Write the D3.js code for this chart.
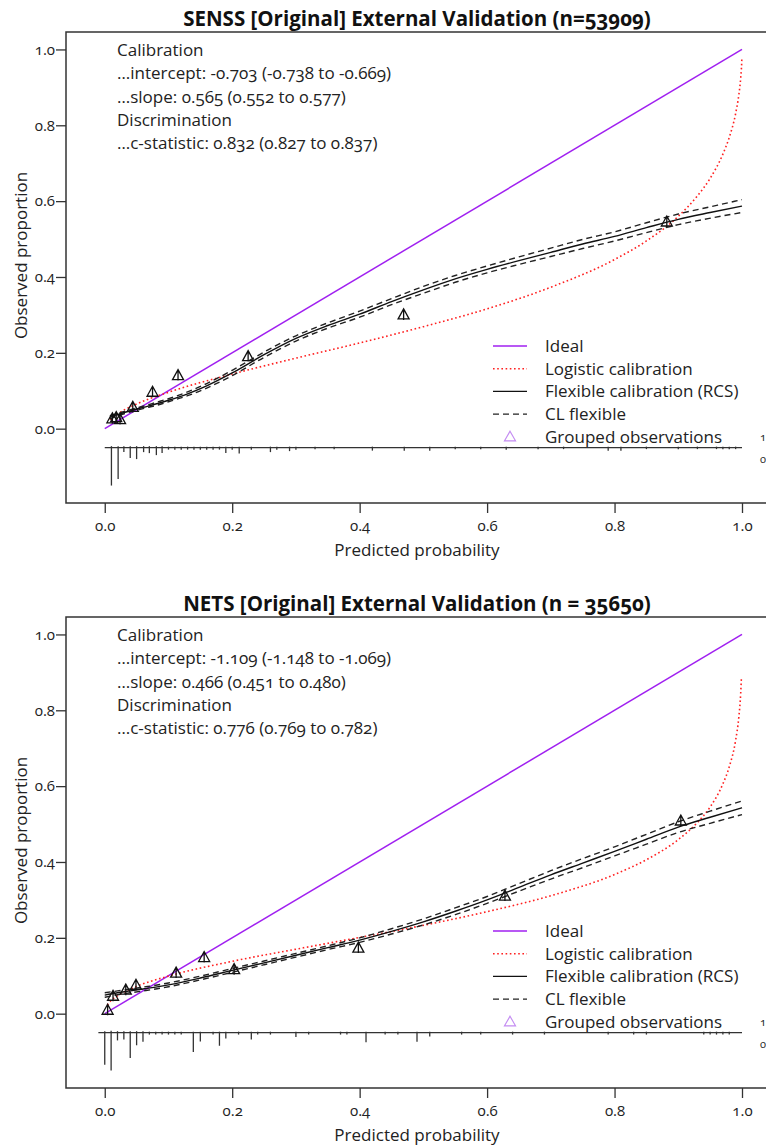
<!DOCTYPE html>
<html>
<head>
<meta charset="utf-8">
<script src="https://cdn.jsdelivr.net/npm/d3@7"></script>
<style>
  body { margin: 0; background: #fff; }
  svg { display: block; font-family: "Open Sans", Lato, sans-serif; font-variant-numeric: oldstyle-nums; font-feature-settings: "onum" 1; }
</style>
</head>
<body>
<div id="chart"></div>
<script>
// ---- SENSS panel data ----
var senssTitle = "SENSS [Original] External Validation (n=53909)";
var senssStats = ["Calibration", "\u2026intercept: -0.703 (-0.738 to -0.669)", "\u2026slope: 0.565 (0.552 to 0.577)",
  "Discrimination", "\u2026c-statistic: 0.832 (0.827 to 0.837)"];

var senssLogisticP = [0.008, 0.02, 0.05, 0.1, 0.2, 0.3, 0.4, 0.5, 0.6, 0.7, 0.8, 0.85, 0.9, 0.93, 0.95, 0.97, 0.98, 0.99, 0.995, 0.998, 0.999, 0.9995, 0.9998];
var senssLogisticObs = [0.024, 0.039, 0.065, 0.096, 0.144, 0.186, 0.226, 0.269, 0.316, 0.373, 0.446, 0.495, 0.560, 0.614, 0.660, 0.724, 0.768, 0.831, 0.880, 0.925, 0.948, 0.964, 0.980];

var senssRcsP = [0.008, 0.02, 0.04, 0.06, 0.08, 0.10, 0.13, 0.16, 0.20, 0.25, 0.30, 0.35, 0.40, 0.45, 0.50, 0.55, 0.60, 0.65, 0.70, 0.75, 0.80, 0.85, 0.90, 0.95, 1.0];
var senssRcsObs = [0.030, 0.037, 0.047, 0.056, 0.065, 0.075, 0.092, 0.113, 0.147, 0.195, 0.238, 0.272, 0.302, 0.335, 0.366, 0.395, 0.420, 0.443, 0.465, 0.487, 0.507, 0.530, 0.552, 0.570, 0.587];
var senssRcsLo = [0.026, 0.034, 0.044, 0.053, 0.061, 0.071, 0.087, 0.107, 0.140, 0.188, 0.231, 0.265, 0.294, 0.327, 0.357, 0.386, 0.411, 0.433, 0.454, 0.475, 0.495, 0.517, 0.538, 0.555, 0.570];
var senssRcsHi = [0.034, 0.040, 0.050, 0.059, 0.069, 0.079, 0.097, 0.119, 0.154, 0.202, 0.245, 0.279, 0.310, 0.343, 0.375, 0.404, 0.429, 0.453, 0.476, 0.499, 0.519, 0.543, 0.566, 0.585, 0.604];

var senssGroupP = [0.012, 0.018, 0.024, 0.044, 0.075, 0.115, 0.225, 0.469, 0.882];
var senssGroupObs = [0.026, 0.029, 0.024, 0.056, 0.096, 0.140, 0.190, 0.300, 0.545];

var senssSpikeP = [0.0105, 0.021, 0.03, 0.04, 0.05, 0.061, 0.07, 0.081, 0.09, 0.10, 0.11, 0.12, 0.13, 0.14, 0.15, 0.16, 0.17, 0.18, 0.19, 0.20, 0.211, 0.23, 0.26, 0.27, 0.29, 0.30, 0.33, 0.36, 0.42, 0.47, 0.51, 0.55, 0.59, 0.63, 0.68, 0.72, 0.79, 0.81, 0.85, 0.90, 0.93, 0.96, 0.97, 0.98, 0.99];
var senssSpike0 = [38, 31.5, 4.5, 10.5, 11.5, 4.5, 5.5, 7.5, 5.5, 2, 2, 2, 2, 2, 2, 2, 2, 2, 5.5, 2, 6, 2, 4.5, 2, 3.5, 2, 1.5, 1.5, 3, 3, 3, 1.5, 1.5, 2, 1.5, 1.5, 3, 3, 1.5, 1.5, 1.5, 1.5, 1.5, 1.5, 1.5];
var senssSpike1 = [1.5, 1.5, 1.5, 1.5, 1.5, 1.5, 1.5, 1.5, 1.5, 1, 1, 1, 1, 1, 1, 1, 1, 1, 1, 1, 1, 1, 1, 1, 1, 1, 1, 1, 1, 1, 1, 1, 1, 1, 1, 1, 1, 1, 1, 1, 1, 1, 1, 1, 1];

// ---- NETS panel data ----
var netsTitle = "NETS [Original] External Validation (n = 35650)";
var netsStats = ["Calibration", "\u2026intercept: -1.109 (-1.148 to -1.069)", "\u2026slope: 0.466 (0.451 to 0.480)",
  "Discrimination", "\u2026c-statistic: 0.776 (0.769 to 0.782)"];

var netsLogisticP = [0.004, 0.01, 0.02, 0.05, 0.1, 0.2, 0.3, 0.4, 0.5, 0.6, 0.7, 0.8, 0.85, 0.9, 0.93, 0.95, 0.97, 0.98, 0.99, 0.995, 0.998, 0.999];
var netsLogisticObs = [0.023, 0.035, 0.047, 0.072, 0.099, 0.138, 0.170, 0.201, 0.233, 0.269, 0.311, 0.367, 0.406, 0.459, 0.504, 0.545, 0.606, 0.651, 0.721, 0.782, 0.846, 0.884];

var netsRcsP = [0.0, 0.02, 0.04, 0.06, 0.08, 0.10, 0.15, 0.20, 0.25, 0.30, 0.35, 0.40, 0.45, 0.50, 0.55, 0.60, 0.65, 0.70, 0.75, 0.80, 0.85, 0.90, 0.95, 1.0];
var netsRcsObs = [0.049, 0.055, 0.060, 0.065, 0.070, 0.076, 0.094, 0.114, 0.134, 0.154, 0.174, 0.194, 0.217, 0.242, 0.270, 0.300, 0.333, 0.366, 0.397, 0.428, 0.460, 0.492, 0.518, 0.543];
var netsRcsLo = [0.043, 0.050, 0.055, 0.060, 0.065, 0.071, 0.089, 0.109, 0.129, 0.149, 0.169, 0.188, 0.210, 0.234, 0.261, 0.291, 0.323, 0.355, 0.385, 0.416, 0.447, 0.478, 0.502, 0.525];
var netsRcsHi = [0.055, 0.060, 0.065, 0.070, 0.075, 0.081, 0.099, 0.119, 0.139, 0.159, 0.179, 0.200, 0.224, 0.250, 0.279, 0.309, 0.343, 0.377, 0.409, 0.440, 0.473, 0.506, 0.534, 0.561];

var netsGroupP = [0.0045, 0.013, 0.033, 0.049, 0.112, 0.156, 0.203, 0.398, 0.628, 0.904];
var netsGroupObs = [0.009, 0.046, 0.062, 0.075, 0.107, 0.148, 0.116, 0.173, 0.310, 0.508];

var netsSpikeP = [0.0, 0.01, 0.02, 0.03, 0.04, 0.05, 0.06, 0.07, 0.08, 0.09, 0.10, 0.11, 0.12, 0.139, 0.15, 0.17, 0.18, 0.19, 0.21, 0.23, 0.24, 0.26, 0.30, 0.32, 0.37, 0.38, 0.41, 0.44, 0.46, 0.49, 0.51, 0.56, 0.59, 0.64, 0.69, 0.79, 0.83, 0.85, 0.94, 0.95, 0.96, 0.97, 0.98];
var netsSpike0 = [33, 39, 8, 7, 26, 13, 9.5, 2, 2, 2, 2, 2, 2, 20, 9, 2, 13.5, 6, 2, 7, 2, 2, 4.5, 2, 2, 2, 10, 2, 2, 9.5, 4, 2, 2, 2, 2, 2, 2, 2, 2, 2, 2, 2, 2];
var netsSpike1 = [1.5, 2, 1.5, 1.5, 1.5, 1.5, 1.5, 1, 1, 1, 1, 1, 1, 1, 1, 1, 1, 1, 1, 1, 1, 1, 1, 1, 1, 1, 1, 1, 1, 1, 1, 1, 1, 1, 1, 1, 1, 1, 1, 1, 1, 1, 1];

// shared axis / legend text
var yTicks = [0, 0.2, 0.4, 0.6, 0.8, 1.0];
var xTicks = [0, 0.2, 0.4, 0.6, 0.8, 1.0];
var legendLabels = ["Ideal", "Logistic calibration", "Flexible calibration (RCS)", "CL flexible", "Grouped observations"];

var W = 766, H = 1145;
var svg = d3.select("#chart").append("svg").attr("width", W).attr("height", H);

function zip(a, b) { return a.map(function (d, i) { return [d, b[i]]; }); }

function drawPanel(cfg) {
  var box = cfg.box;
  var x = d3.scaleLinear().domain([-0.0608, 1.0408]).range([box.left, box.right]);
  var y = d3.scaleLinear().domain([-0.196, 1.046]).range([box.bottom, box.top]);
  var g = svg.append("g");
  var axisCol = "#333";

  // box (right edge falls just off the page)
  g.append("path")
    .attr("d", "M" + box.right + "," + box.top + "H" + box.left + "V" + box.bottom + "H" + box.right)
    .attr("fill", "none").attr("stroke", axisCol).attr("stroke-width", 1.5);

  // axes
  var ya = g.append("g").attr("transform", "translate(" + box.left + ",0)")
    .call(d3.axisLeft(y).tickValues(yTicks).tickFormat(d3.format(".1f")).tickSize(10).tickPadding(1));
  var xa = g.append("g").attr("transform", "translate(0," + box.bottom + ")")
    .call(d3.axisBottom(x).tickValues(xTicks).tickFormat(d3.format(".1f")).tickSize(10).tickPadding(7));
  [ya, xa].forEach(function (a) {
    a.attr("font-family", null).attr("font-size", null);
    a.select(".domain").remove();
    a.selectAll("line").attr("stroke", axisCol).attr("stroke-width", 1.3);
    a.selectAll("text").attr("fill", "#222").style("font-size", "15px");
  });

  // titles
  var cx = (box.left + box.right) / 2;
  g.append("text").attr("x", cx).attr("y", box.top - 6).attr("text-anchor", "middle")
    .style("font-size", "20.5px").style("font-weight", "bold").attr("fill", "#111").text(cfg.title);
  g.append("text").attr("x", cx).attr("y", box.bottom + 53).attr("text-anchor", "middle")
    .style("font-size", "17px").attr("fill", "#222").text("Predicted probability");
  g.append("text").attr("transform", "translate(27," + ((box.top + box.bottom) / 2 - 12) + ") rotate(-90)")
    .attr("text-anchor", "middle").style("font-size", "17px").attr("fill", "#222").text("Observed proportion");

  // stats text
  g.selectAll(".stat").data(cfg.stats).enter().append("text")
    .attr("x", 117).attr("y", function (d, i) { return box.top + 18 + i * 23.3; })
    .attr("dy", "0.35em").style("font-size", "17px").attr("fill", "#222").text(function (d) { return d; });

  var line = d3.line().x(function (d) { return x(d[0]); }).y(function (d) { return y(d[1]); });
  var smooth = d3.line().curve(d3.curveMonotoneX).x(function (d) { return x(d[0]); }).y(function (d) { return y(d[1]); });

  // spikes histogram
  var base = -0.05;
  var maxF = d3.max(cfg.spike0.concat(cfg.spike1));
  var f = d3.scaleLinear().domain([0, maxF]).range([0, 0.1]);
  g.append("path").attr("d", line([[cfg.baseFrom, base], [1, base]]))
    .attr("stroke", axisCol).attr("stroke-width", 1.3);
  g.selectAll(".s0").data(cfg.spikeP).enter().append("line")
    .attr("x1", function (d) { return x(d); }).attr("x2", function (d) { return x(d); })
    .attr("y1", y(base)).attr("y2", function (d, i) { return y(base - f(cfg.spike0[i])); })
    .attr("stroke", axisCol).attr("stroke-width", 1.3);
  g.selectAll(".s1").data(cfg.spikeP).enter().append("line")
    .attr("x1", function (d) { return x(d); }).attr("x2", function (d) { return x(d); })
    .attr("y1", y(base)).attr("y2", function (d, i) { return y(base + f(cfg.spike1[i])); })
    .attr("stroke", axisCol).attr("stroke-width", 1.3);
  g.append("text").attr("x", 760).attr("y", y(base + 0.028)).attr("dy", "0.35em")
    .style("font-size", "11px").attr("fill", "#222").text("1");
  g.append("text").attr("x", 760).attr("y", y(base - 0.031)).attr("dy", "0.35em")
    .style("font-size", "11px").attr("fill", "#222").text("0");

  // ideal
  g.append("path").attr("d", line([[0, 0], [1, 1]])).attr("stroke", "#a020f0").attr("stroke-width", 1.5).attr("fill", "none");
  // logistic calibration
  g.append("path").attr("d", smooth(zip(cfg.logP, cfg.logObs))).attr("fill", "none")
    .attr("stroke", "#ff2020").attr("stroke-width", 1.6).attr("stroke-dasharray", "1.6,2.6");
  // flexible + CL
  g.append("path").attr("d", smooth(zip(cfg.rcsP, cfg.rcsLo))).attr("fill", "none")
    .attr("stroke", "#222").attr("stroke-width", 1.4).attr("stroke-dasharray", "6,4");
  g.append("path").attr("d", smooth(zip(cfg.rcsP, cfg.rcsHi))).attr("fill", "none")
    .attr("stroke", "#222").attr("stroke-width", 1.4).attr("stroke-dasharray", "6,4");
  g.append("path").attr("d", smooth(zip(cfg.rcsP, cfg.rcsObs))).attr("fill", "none")
    .attr("stroke", "#111").attr("stroke-width", 1.4);

  // grouped observations
  var tri = "M0,-6L5.5,4L-5.5,4Z M0,-6V5";
  g.selectAll(".grp").data(zip(cfg.groupP, cfg.groupObs)).enter().append("path")
    .attr("transform", function (d) { return "translate(" + x(d[0]) + "," + y(d[1]) + ")"; })
    .attr("d", tri).attr("fill", "none").attr("stroke", "#111").attr("stroke-width", 1.3);

  // legend
  var ly0 = box.top + 314, lstep = 22.7;
  var lg = g.append("g");
  legendLabels.forEach(function (lab, i) {
    var yy = ly0 + i * lstep;
    if (i < 4) {
      var st = [["#a020f0", null], ["#ff2020", "1.6,2.6"], ["#111", null], ["#222", "6,4"]][i];
      lg.append("line").attr("x1", 493).attr("x2", 527).attr("y1", yy).attr("y2", yy)
        .attr("stroke", st[0]).attr("stroke-width", i === 1 ? 1.6 : 1.4).attr("stroke-dasharray", st[1]);
    } else {
      lg.append("path").attr("transform", "translate(510," + yy + ")").attr("d", "M0,-5.5L5.5,4L-5.5,4Z")
        .attr("fill", "none").attr("stroke", "#c48cf2").attr("stroke-width", 1.2);
    }
    lg.append("text").attr("x", 545).attr("y", yy).attr("dy", "0.35em")
      .style("font-size", "17px").attr("fill", "#222").text(lab);
  });
}

drawPanel({
  box: { left: 66, right: 768, top: 32, bottom: 503 },
  title: senssTitle, stats: senssStats,
  logP: senssLogisticP, logObs: senssLogisticObs,
  rcsP: senssRcsP, rcsObs: senssRcsObs, rcsLo: senssRcsLo, rcsHi: senssRcsHi,
  groupP: senssGroupP, groupObs: senssGroupObs,
  spikeP: senssSpikeP, spike0: senssSpike0, spike1: senssSpike1, baseFrom: 0
});

drawPanel({
  box: { left: 66, right: 768, top: 617, bottom: 1088 },
  title: netsTitle, stats: netsStats,
  logP: netsLogisticP, logObs: netsLogisticObs,
  rcsP: netsRcsP, rcsObs: netsRcsObs, rcsLo: netsRcsLo, rcsHi: netsRcsHi,
  groupP: netsGroupP, groupObs: netsGroupObs,
  spikeP: netsSpikeP, spike0: netsSpike0, spike1: netsSpike1, baseFrom: -0.01
});
</script>
</body>
</html>
